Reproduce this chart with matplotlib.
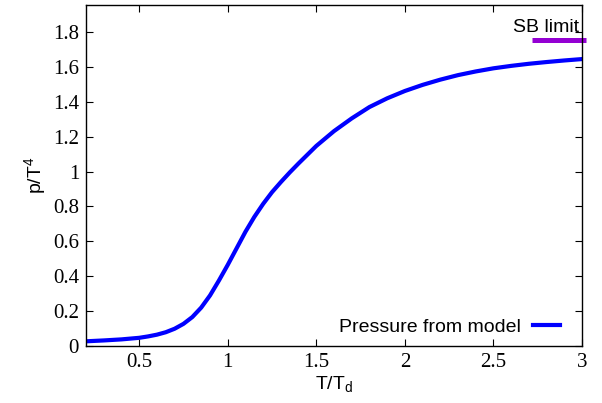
import matplotlib
matplotlib.use("Agg")
import matplotlib.pyplot as plt

# pressure from model
t_over_td = [0.2, 0.3, 0.4, 0.5, 0.55, 0.6, 0.65, 0.7, 0.75, 0.8, 0.85,
             0.9, 0.95, 1.0, 1.05, 1.1, 1.15, 1.2, 1.25, 1.3, 1.35, 1.4,
             1.45, 1.5, 1.6, 1.7, 1.8, 1.9, 2.0, 2.1, 2.2, 2.3, 2.4, 2.5,
             2.6, 2.7, 2.8, 2.9, 3.0]
p_over_t4 = [0.027, 0.032, 0.038, 0.047, 0.055, 0.065, 0.079, 0.099, 0.127,
             0.166, 0.22, 0.29, 0.375, 0.465, 0.56, 0.655, 0.74, 0.815,
             0.882, 0.94, 0.995, 1.047, 1.097, 1.147, 1.232, 1.305, 1.37,
             1.42, 1.462, 1.497, 1.527, 1.553, 1.574, 1.592, 1.606, 1.618,
             1.628, 1.637, 1.645]

sb_x = [2.72, 3.02]
sb_y = [1.754, 1.754]

xticks = [0.5, 1, 1.5, 2, 2.5, 3]
xticklabels = ["0.5", "1", "1.5", "2", "2.5", "3"]
yticks = [0, 0.2, 0.4, 0.6, 0.8, 1, 1.2, 1.4, 1.6, 1.8]
yticklabels = ["0", "0.2", "0.4", "0.6", "0.8", "1", "1.2", "1.4", "1.6", "1.8"]

sans = "Liberation Sans"
serif = "Liberation Serif"

fig = plt.figure(figsize=(6.02, 4.03), dpi=100)
ax = fig.add_axes([0.1429, 0.1414, 0.8239, 0.8462])

ax.plot(t_over_td, p_over_t4, color="#0000ff", lw=3, label="Pressure from model")
ax.plot(sb_x, sb_y, color="#9400d3", lw=3.6, clip_on=False, solid_capstyle="butt")
ax.text(2.985, 1.80, "SB limit", ha="right", va="baseline", fontsize=14,
        family=sans)

ax.set_xlim(0.2, 3)
ax.set_ylim(0, 1.955)
ax.set_xticks(xticks)
ax.set_xticklabels(xticklabels, family=serif, fontsize=15)
ax.set_yticks(yticks)
ax.set_yticklabels(yticklabels, family=serif, fontsize=15)
ax.tick_params(direction="in", top=True, right=True, length=5, width=0.8,
               pad=5)
for s in ax.spines.values():
    s.set_linewidth(1.0)

ax.set_xlabel("T/T$_\\mathregular{d}$", family=sans, fontsize=14, labelpad=2)
ax.set_ylabel("p/T$^\\mathregular{4}$", family=sans, fontsize=14, labelpad=3)

ax.legend(loc="lower right", frameon=False, markerfirst=False,
          prop={"family": sans, "size": 14}, handlelength=1.4,
          handletextpad=0.6, borderaxespad=0.1, bbox_to_anchor=(0.975, 0.0))

fig.savefig("out.png", dpi=100)
